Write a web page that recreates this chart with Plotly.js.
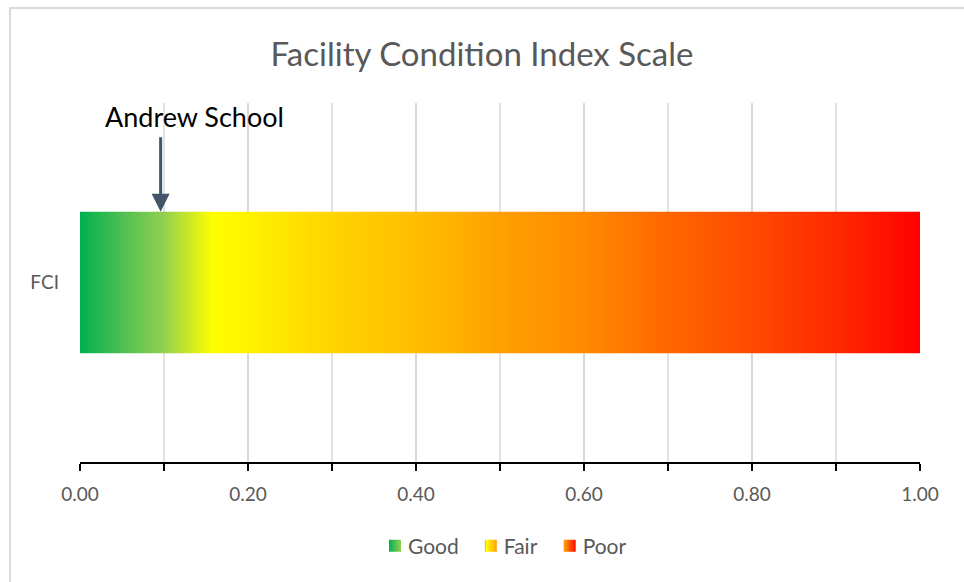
<!DOCTYPE html>
<html>
<head>
<meta charset="utf-8">
<script src="https://cdn.plot.ly/plotly-3.0.1.min.js"></script>
<style>
  html, body { margin: 0; padding: 0; background: #fff; }
  #wrap { position: relative; width: 964px; height: 582px; overflow: hidden; }
  #chart { position: absolute; left: 0; top: 0; width: 964px; height: 582px; }
  #frame { position: absolute; left: 9px; top: 7px; right: -10px; bottom: -10px;
           border-top: 2px solid #d9d9d9; border-left: 2px solid #d9d9d9; pointer-events: none; }
</style>
</head>
<body>
<div id="wrap">
  <div id="chart"></div>
  <div id="frame"></div>
</div>
<script>
// ---- data ----
const category = "FCI";
const seriesNames = ["Good", "Fair", "Poor"];
const seriesValues = [0.10, 0.40, 0.50];   // stacked segment widths
const schoolName = "Andrew School";
const schoolFCI = 0.096;
const xTickVals = [0, 0.2, 0.4, 0.6, 0.8, 1.0];
const xTickText = ["0.00", "0.20", "0.40", "0.60", "0.80", "1.00"];

// ---- styles ----
const gradients = [
  [[0, "#00b050"], [0.5, "#4dbf50"], [1, "#92d050"]],
  [[0, "#92d050"], [0.145, "#ffff00"], [0.25, "#fff200"], [0.5, "#ffd400"], [0.75, "#ffbe00"], [1, "#ffa000"]],
  [[0, "#ffa000"], [0.2, "#ff8a00"], [0.4, "#ff6600"], [0.6, "#ff4a00"], [0.8, "#ff2a00"], [1, "#ff0000"]]
];
const half = 0.197;
const gray = "#595959";
const font = "Lato, 'Open Sans', sans-serif";

let start = 0;
const traces = seriesNames.map((name, i) => {
  const s = start, e = start + seriesValues[i];
  start = e;
  return {
    type: "scatter",
    mode: "lines",
    name: name,
    x: [s, e, e, s, s],
    y: [-half, -half, half, half, -half],
    fill: "toself",
    line: { width: 0, color: "rgba(0,0,0,0)" },
    fillgradient: { type: "horizontal", colorscale: gradients[i], start: s, stop: e },
    hoverinfo: "skip"
  };
});

const layout = {
  width: 964, height: 582,
  margin: { l: 80, r: 44, t: 103, b: 120 },
  paper_bgcolor: "rgba(0,0,0,0)",
  plot_bgcolor: "rgba(0,0,0,0)",
  font: { family: font, color: gray },
  title: { text: "Facility Condition Index Scale", font: { size: 33, color: gray, family: font },
           x: 0.5, xanchor: "center", y: 1 - 54 / 582, yanchor: "middle" },
  showlegend: true,
  legend: { orientation: "h", x: 0.5, xanchor: "center", y: -0.234, yanchor: "middle",
            font: { size: 21, color: gray }, itemwidth: 30, traceorder: "normal" },
  xaxis: {
    range: [0, 1], fixedrange: true,
    tickvals: xTickVals, ticktext: xTickText,
    tickfont: { size: 19, color: gray },
    ticks: "outside", ticklen: 7, tickwidth: 2, tickcolor: "#000",
    showline: true, linecolor: "#000", linewidth: 2,
    showgrid: true, gridcolor: "#d9d9d9", gridwidth: 1.5,
    zeroline: false,
    minor: { dtick: 0.1, tick0: 0, ticks: "outside", ticklen: 7, tickwidth: 2, tickcolor: "#000",
             showgrid: true, gridcolor: "#e3e3e3", gridwidth: 1.5 },
    ticklabelstandoff: 7
  },
  yaxis: {
    range: [-0.5, 0.5], fixedrange: true,
    tickvals: [0], ticktext: [category],
    tickfont: { size: 19, color: gray },
    showgrid: false, zeroline: false, showline: false, ticks: "",
    ticklabelstandoff: 20
  },
  annotations: [
    { x: schoolFCI, y: half, xref: "x", yref: "y", text: "", showarrow: true,
      ax: 0, ay: -76, arrowhead: 2, arrowsize: 1.2, arrowwidth: 3, arrowcolor: "#44546a",
      standoff: 0, startstandoff: 0 },
    { x: schoolFCI, y: half, xref: "x", yref: "y", text: schoolName, showarrow: false,
      xshift: 34, yshift: 95, font: { size: 27, color: "#000", family: font } }
  ]
};

Plotly.newPlot("chart", traces, layout, { displayModeBar: false, staticPlot: true }).then(() => {
  // make legend swatches small squares like the reference
  document.querySelectorAll("#chart .legendfill path").forEach(p => {
    p.setAttribute("d", "M21,-6h12v12h-12z");
  });
});
</script>
</body>
</html>
